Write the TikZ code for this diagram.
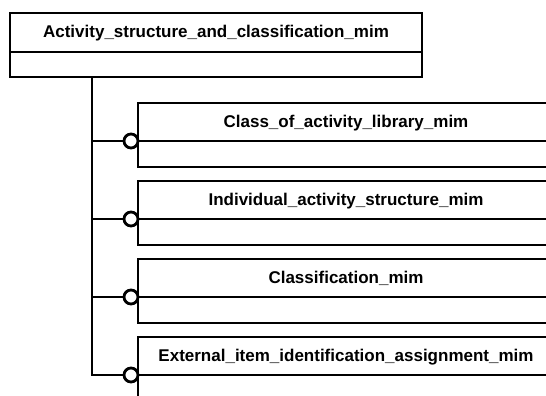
\documentclass[tikz,border=0pt]{standalone}
\usepackage{fontspec}
\setmainfont{Liberation Sans}
\begin{document}
\begin{tikzpicture}[x=1pt,y=-1pt,
  lw/.style={line width=2.8pt},
  hdr/.style={lw, draw, rectangle, inner sep=0pt, text height=12pt, text depth=2pt,
    font=\fontsize{17}{20}\selectfont\bfseries},
  bodybox/.style={lw, draw, rectangle, inner sep=0pt},
  conn/.style={lw},
  ring/.style={lw, draw, circle, fill=white, inner sep=0pt, minimum size=14pt}]
\useasboundingbox (0,0) rectangle (546,396);
\clip (0,0) rectangle (546,396);
% top box
\node[hdr, minimum width=412pt, minimum height=39pt] (A) at (216,32.5) {Activity\_structure\_and\_classification\_mim};
\node[bodybox, minimum width=412pt, minimum height=25pt] (Ab) at (216,64.5) {};
% child boxes
\node[hdr, minimum width=416pt, minimum height=38pt] (B1) at (346,122) {Class\_of\_activity\_library\_mim};
\node[bodybox, minimum width=416pt, minimum height=26pt] (B1b) at (346,154) {};
\node[hdr, minimum width=416pt, minimum height=38pt] (B2) at (346,200) {Individual\_activity\_structure\_mim};
\node[bodybox, minimum width=416pt, minimum height=26pt] (B2b) at (346,232) {};
\node[hdr, minimum width=416pt, minimum height=38pt] (B3) at (346,278) {Classification\_mim};
\node[bodybox, minimum width=416pt, minimum height=26pt] (B3b) at (346,310) {};
\node[hdr, minimum width=416pt, minimum height=38pt] (B4) at (346,356) {External\_item\_identification\_assignment\_mim};
\node[bodybox, minimum width=416pt, minimum height=26pt] (B4b) at (346,388) {};
% connector rings
\node[ring] (c1) at (131,141) {};
\node[ring] (c2) at (131,219) {};
\node[ring] (c3) at (131,297) {};
\node[ring] (c4) at (131,375) {};
% trunk
\coordinate (root) at (92,77);
\draw[conn] (root) |- (c4.west);
\draw[conn] (root |- c1) -- (c1.west);
\draw[conn] (root |- c2) -- (c2.west);
\draw[conn] (root |- c3) -- (c3.west);
\end{tikzpicture}
\end{document}
